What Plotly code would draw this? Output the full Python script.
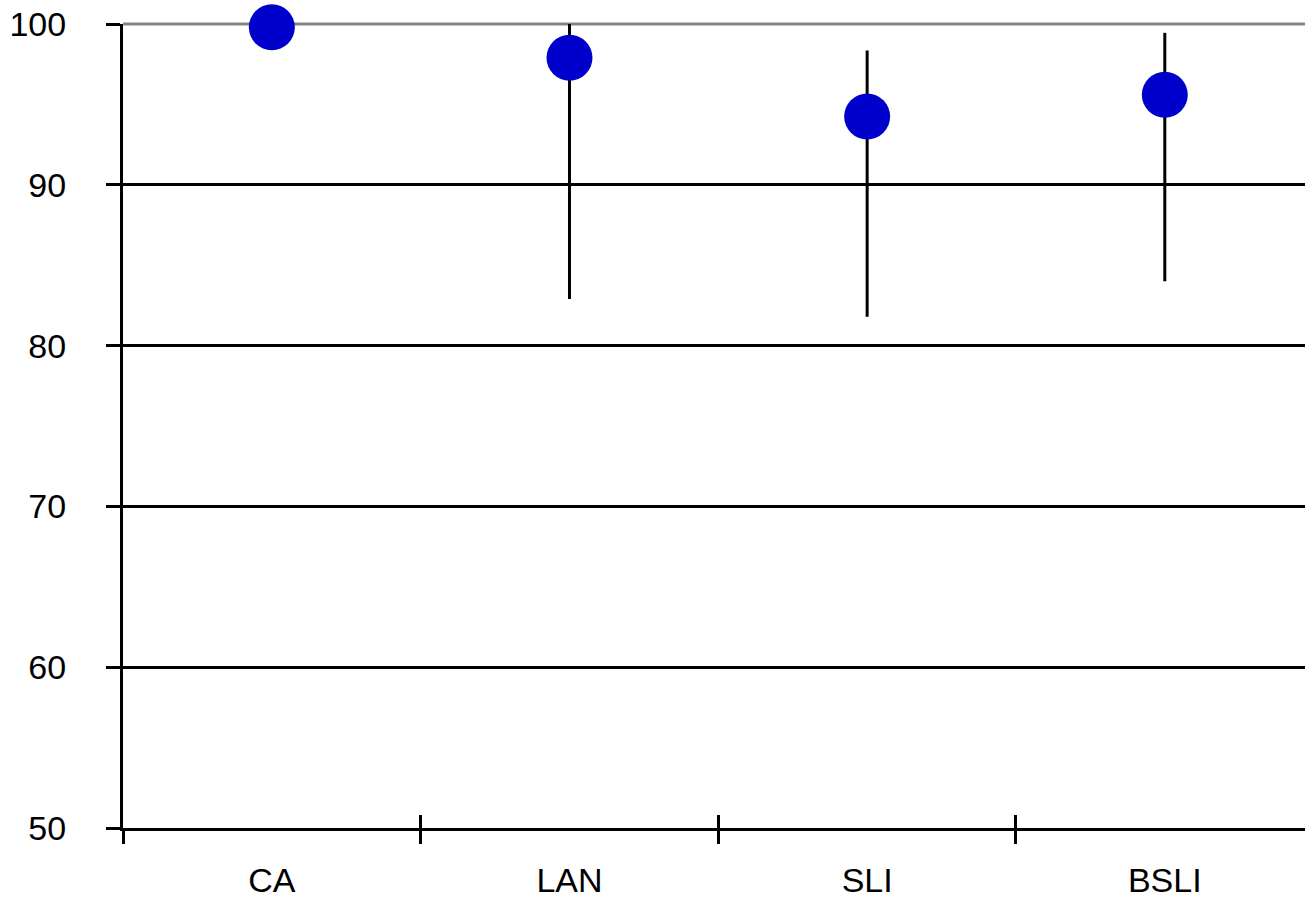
import plotly.graph_objects as go

# Mean scores per method with asymmetric spread
categories = ["CA", "LAN", "SLI", "BSLI"]
means = [99.8, 97.9, 94.25, 95.6]
upper = [99.8, 100.0, 98.35, 99.45]
lower = [99.8, 82.9, 81.8, 84.0]

y_ticks = [50, 60, 70, 80, 90, 100]

err_plus = [u - m for u, m in zip(upper, means)]
err_minus = [m - l for m, l in zip(means, lower)]

FONT = "Liberation Sans, Arial, sans-serif"
x_range = [-0.5, 3.471]
boundaries = [i - 0.5 for i in range(len(categories))]

fig = go.Figure()
fig.add_trace(go.Scatter(
    x=categories, y=means, mode="markers",
    marker=dict(symbol="circle", size=46, color="#0000CC", line=dict(width=0)),
    error_y=dict(type="data", symmetric=False, array=err_plus, arrayminus=err_minus,
                 color="black", thickness=3, width=0),
    showlegend=False, cliponaxis=False,
))

# Gray border line along the top of the plotting area
fig.add_shape(type="line", xref="paper", yref="paper", x0=0, x1=1, y0=1, y1=1,
              line=dict(color="#858585", width=3), layer="between")

fig.update_layout(
    width=1305, height=905,
    margin=dict(l=123, r=0, t=24, b=77),
    paper_bgcolor="white", plot_bgcolor="white",
    font=dict(family=FONT, size=34, color="black"),
    xaxis=dict(
        type="category", range=x_range, tickson="boundaries",
        ticks="outside", ticklen=13, tickwidth=3, tickcolor="black",
        showline=True, linecolor="black", linewidth=3,
        showgrid=False, zeroline=False,
        tickfont=dict(family=FONT, size=34, color="black"),
        ticklabelstandoff=20,
    ),
    xaxis2=dict(
        overlaying="x", anchor="y", side="bottom", range=x_range,
        tickmode="array", tickvals=boundaries, showticklabels=False,
        ticks="inside", ticklen=13, tickwidth=3, tickcolor="black",
        showline=False, showgrid=False, zeroline=False,
    ),
    yaxis=dict(
        range=[50, 100], tickmode="array", tickvals=y_ticks,
        ticks="outside", ticklen=14, tickwidth=3, tickcolor="black",
        showline=True, linecolor="black", linewidth=3,
        showgrid=True, gridcolor="black", gridwidth=3, zeroline=False,
        tickfont=dict(family=FONT, size=34, color="black"),
        ticklabelstandoff=33,
    ),
    yaxis2=dict(
        overlaying="y", anchor="x", side="left", range=[50, 100],
        tickmode="array", tickvals=y_ticks, showticklabels=False,
        ticks="inside", ticklen=14, tickwidth=3, tickcolor="black",
        showline=False, showgrid=False, zeroline=False,
    ),
)

# Invisible trace so the overlay axes render their ticks
fig.add_trace(go.Scatter(x=[None], y=[None], xaxis="x2", yaxis="y2",
                         showlegend=False, hoverinfo="skip"))

fig.write_html("out.html")
